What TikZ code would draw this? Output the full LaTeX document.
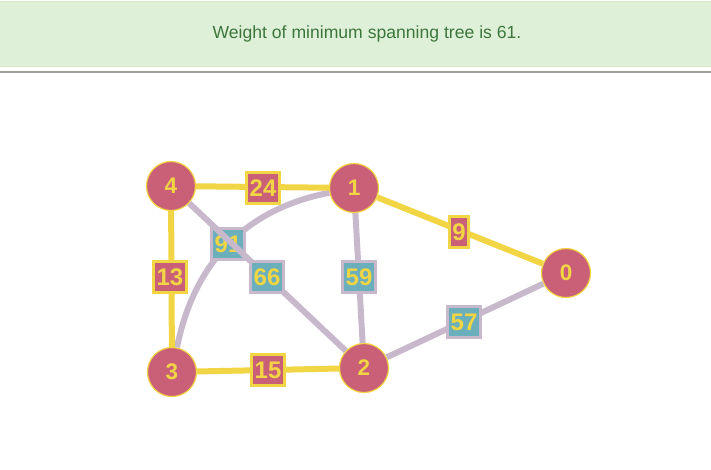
\documentclass[tikz,border=0pt]{standalone}
\usepackage{fontspec}
\setmainfont{Liberation Sans}
\definecolor{hdrbg}{HTML}{DFF0D8}
\definecolor{hdrbd}{HTML}{D6E9C6}
\definecolor{hdrtx}{HTML}{3C763D}
\definecolor{rulegray}{HTML}{A0A0A0}
\definecolor{ylw}{HTML}{F2D544}
\definecolor{lav}{HTML}{C8B8CC}
\definecolor{pnk}{HTML}{C96078}
\definecolor{teal}{HTML}{6AAFBB}
\tikzset{
  vtx/.style={circle, fill=pnk, draw=ylw, line width=1.2pt, minimum size=49pt, inner sep=0pt,
    text=ylw, font=\fontsize{22.5}{22.5}\selectfont\bfseries},
  tedge/.style={draw=ylw, line width=6pt},
  oedge/.style={draw=lav, line width=6pt},
  tlab/.style={rectangle, fill=pnk, draw=ylw, line width=3pt, inner xsep=3pt, inner ysep=0pt,
    minimum height=31pt, text=ylw, font=\fontsize{24}{24}\selectfont\bfseries},
  olab/.style={tlab, fill=teal, draw=lav},
}
\begin{document}
\begin{tikzpicture}[x=1pt, y=-1pt]
\useasboundingbox (0,0) rectangle (711,469);
% header
\fill[hdrbg] (0,1) rectangle (711,67);
\draw[hdrbd, line width=1pt] (0,1.5) -- (711,1.5);
\draw[hdrbd, line width=1pt] (0,66.5) -- (711,66.5);
\node[text=hdrtx, font=\fontsize{17.6}{20}\selectfont] (title) at (367,34) {Weight of minimum spanning tree is 61.};
\draw[rulegray, line width=1.2pt] (0,72) -- (711,72);
% vertices
\node[vtx] (n4) at (171,186) {4};
\node[vtx] (n1) at (354,188) {1};
\node[vtx] (n0) at (566,273) {0};
\node[vtx] (n3) at (172,372) {3};
\node[vtx] (n2) at (364,368) {2};
% edges (label 91 sits below the 4--2 edge)
\coordinate (c1) at (245,209);
\coordinate (c2) at (194,263);
\draw[oedge] (n1) .. controls (c1) and (c2) .. (n3);
\node[olab] (l91) at (228,244) {91};
\draw[oedge] (n4) -- (n2);
\draw[oedge] (n1) -- (n2);
\draw[oedge] (n2) -- (n0);
\draw[tedge] (n4) -- (n1);
\draw[tedge] (n1) -- (n0);
\draw[tedge] (n4) -- (n3);
\draw[tedge] (n3) -- (n2);
% labels
\node[olab] (l66) at (267,277) {66};
\node[olab] (l59) at (359,277) {59};
\node[olab] (l57) at (464,322) {57};
\node[tlab] (l24) at (263,188) {24};
\node[tlab] (l9) at (459,232) {9};
\node[tlab] (l13) at (170,277) {13};
\node[tlab] (l15) at (268,370) {15};
\end{tikzpicture}
\end{document}
